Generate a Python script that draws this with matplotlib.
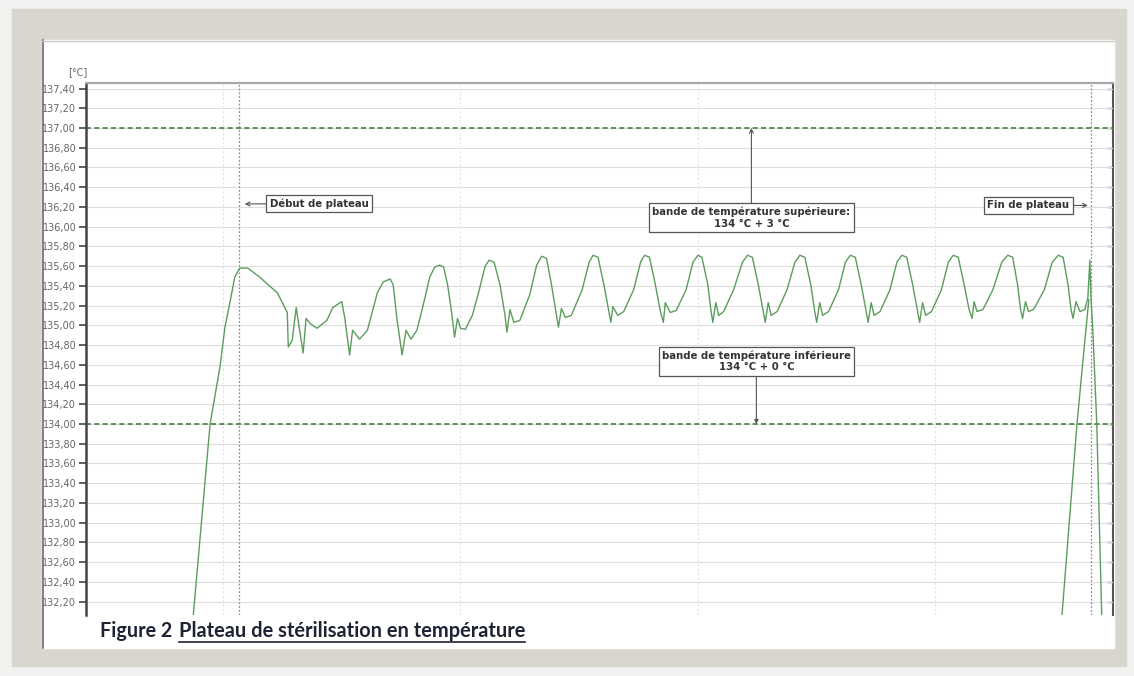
import matplotlib
matplotlib.use("Agg")
import matplotlib.pyplot as plt
from matplotlib.patches import Rectangle
from matplotlib.lines import Line2D
from matplotlib.ticker import FuncFormatter

# relevé de la sonde : temps (s) / température (°C)
temps_s = [207, 210, 227, 237, 242, 247, 252, 257, 265, 277, 288, 295, 301, 305, 306, 310,
           314, 318, 321, 324, 328, 335, 345, 351, 360, 363, 368, 371, 378, 386, 396, 402,
           409, 412, 416, 421, 425, 430, 436, 442, 449, 454, 459, 463, 467, 471, 474, 477,
           480, 485, 492, 499, 505, 509, 514, 520, 525, 527, 530, 534, 540, 550, 557, 562,
           567, 572, 577, 579, 582, 586, 592, 603, 610, 614, 619, 625, 630, 632, 634, 639,
           645, 655, 662, 666, 671, 677, 682, 685, 687, 692, 698, 708, 715, 720, 724, 730,
           733, 735, 738, 741, 746, 756, 765, 770, 775, 781, 786, 788, 791, 794, 800, 810,
           818, 823, 828, 834, 838, 840, 843, 846, 852, 862, 869, 874, 879, 885, 890, 892,
           895, 898, 904, 914, 921, 926, 931, 937, 942, 944, 947, 950, 956, 966, 973, 978,
           983, 989, 994, 997, 999, 1002, 1008, 1018, 1027, 1033, 1038, 1043, 1046, 1048,
           1051, 1054, 1059, 1070, 1078, 1084, 1089, 1094, 1097, 1099, 1102, 1106, 1111,
           1114, 1116, 1117, 1119, 1123, 1128, 1129]
temp_c = [131.81, 132.06, 134.00, 134.58, 134.98, 135.23, 135.49, 135.58, 135.58, 135.49,
          135.39, 135.33, 135.21, 135.13, 134.78, 134.85, 135.18, 134.92, 134.72, 135.07,
          135.02, 134.97, 135.05, 135.18, 135.24, 135.08, 134.70, 134.95, 134.86, 134.95,
          135.33, 135.44, 135.47, 135.41, 135.05, 134.70, 134.95, 134.86, 134.95, 135.19,
          135.49, 135.59, 135.61, 135.59, 135.41, 135.14, 134.88, 135.07, 134.97, 134.96,
          135.10, 135.36, 135.60, 135.66, 135.64, 135.41, 135.10, 134.93, 135.16, 135.03,
          135.05, 135.31, 135.61, 135.70, 135.68, 135.41, 135.10, 134.98, 135.17, 135.08,
          135.10, 135.36, 135.64, 135.71, 135.69, 135.41, 135.14, 135.03, 135.19, 135.10,
          135.14, 135.36, 135.64, 135.71, 135.69, 135.41, 135.14, 135.03, 135.23, 135.13,
          135.15, 135.36, 135.64, 135.71, 135.69, 135.41, 135.16, 135.03, 135.23, 135.10,
          135.14, 135.36, 135.64, 135.71, 135.69, 135.41, 135.14, 135.03, 135.23, 135.10,
          135.14, 135.36, 135.64, 135.71, 135.69, 135.41, 135.14, 135.03, 135.23, 135.10,
          135.14, 135.36, 135.64, 135.71, 135.69, 135.41, 135.14, 135.03, 135.23, 135.10,
          135.14, 135.36, 135.64, 135.71, 135.69, 135.41, 135.14, 135.03, 135.23, 135.10,
          135.14, 135.36, 135.64, 135.71, 135.69, 135.41, 135.16, 135.07, 135.24, 135.14,
          135.16, 135.36, 135.64, 135.71, 135.69, 135.41, 135.16, 135.07, 135.24, 135.14,
          135.16, 135.36, 135.64, 135.71, 135.69, 135.41, 135.16, 135.07, 135.24, 135.14,
          135.16, 135.28, 135.66, 135.31, 134.95, 134.00, 132.06, 131.81]

# seconde trace qui remonte en fin de cycle
retour_s = [1086, 1088, 1103, 1111, 1115]
retour_c = [131.81, 132.08, 134.00, 134.85, 135.26]

bande_sup = 137.0
bande_inf = 134.0
debut_plateau = 256
fin_plateau = 1117
grille_x = [240, 480, 720, 960]
graduations = [132.2, 132.4, 132.6, 132.8, 133.0, 133.2, 133.4, 133.6, 133.8, 134.0,
               134.2, 134.4, 134.6, 134.8, 135.0, 135.2, 135.4, 135.6, 135.8, 136.0,
               136.2, 136.4, 136.6, 136.8, 137.0, 137.2, 137.4]

W, H = 1134, 676
fig = plt.figure(figsize=(W / 100, H / 100), dpi=100)
fig.patch.set_facecolor('#f1f1f0')


def fx(x):
    return x / W


def fy(y):
    return 1 - y / H


# cadre gris + zone blanche (derrière les axes)
fig.patches.append(Rectangle((fx(12), fy(666)), fx(1126) - fx(12), fy(9) - fy(666),
                             transform=fig.transFigure, color='#d8d6cf', zorder=-3))
fig.patches.append(Rectangle((fx(42), fy(648)), fx(1114) - fx(42), fy(40) - fy(648),
                             transform=fig.transFigure, color='white', zorder=-2))
fig.lines.append(Line2D([fx(43), fx(43)], [fy(40), fy(648)], transform=fig.transFigure,
                        color='#6a6a6a', lw=1.2, zorder=-1))
fig.lines.append(Line2D([fx(42), fx(1114)], [fy(41), fy(41)], transform=fig.transFigure,
                        color='#c9c7c1', lw=1.0, zorder=-1))

ax = fig.add_axes([fx(86), fy(615), fx(1113) - fx(86), fy(83) - fy(615)])
ax.set_facecolor('white')
ax.set_xlim(101.6, 1139.4)
ax.set_ylim(132.064, 137.456)

ax.set_yticks(graduations)
ax.yaxis.set_major_formatter(FuncFormatter(lambda v, p: f"{v:.2f}".replace('.', ',')))
ax.tick_params(axis='y', labelsize=7, labelcolor='#666666', length=5, width=1.2,
               color='#444444', pad=2)
ax.set_xticks([])
sec = ax.secondary_yaxis('right')
sec.set_yticks(graduations)
sec.tick_params(direction='in', length=4, width=1.0, color='#555555', labelright=False)
sec.spines['right'].set_color('#555555')
sec.spines['right'].set_linewidth(1.5)

ax.spines['left'].set_color('#444444')
ax.spines['left'].set_linewidth(1.8)
ax.spines['top'].set_color('#a8a8a8')
ax.spines['top'].set_linewidth(1.6)
ax.spines['right'].set_visible(False)
ax.spines['bottom'].set_visible(False)

ax.grid(axis='y', color='#dedede', lw=0.8)
for gx in grille_x:
    ax.axvline(gx, color='#e2e2e2', lw=0.8, ls=(0, (2, 2)))

ax.axvline(debut_plateau, color='#8c8c8c', lw=0.9, ls=(0, (1.5, 1.5)))
ax.axvline(fin_plateau, color='#8c8c8c', lw=0.9, ls=(0, (1.5, 1.5)))

ax.axhline(bande_sup, color='#3f7f3f', lw=1.2, ls=(0, (3, 2)))
ax.axhline(bande_inf, color='#3f7f3f', lw=1.2, ls=(0, (3, 2)))

ax.plot(temps_s, temp_c, color='#5c9c5c', lw=1.0)
ax.plot(retour_s, retour_c, color='#5c9c5c', lw=1.0)

boite = dict(boxstyle='square,pad=0.32', fc='white', ec='#555555', lw=0.9)
fleche = dict(arrowstyle='->', color='#555555', lw=0.8, shrinkA=0, shrinkB=0)
police = dict(fontsize=7.3, fontweight='bold', color='#333333', ha='center', va='center')

ax.annotate('Début de plateau', xy=(262, 136.23), xytext=(337, 136.235),
            bbox=boite, arrowprops=fleche, **police)
ax.annotate('Fin de plateau', xy=(1114, 136.215), xytext=(1054, 136.215),
            bbox=boite, arrowprops=fleche, **police)
ax.annotate('bande de température supérieure:\n134 °C + 3 °C', xy=(774, bande_sup),
            xytext=(774, 136.093), bbox=boite, arrowprops=fleche,
            multialignment='center', **police)
ax.annotate('bande de température inférieure\n134 °C + 0 °C', xy=(779, bande_inf),
            xytext=(779, 134.634), bbox=boite,
            arrowprops=dict(arrowstyle='-|>', color='#555555', lw=0.8, mutation_scale=6,
                            shrinkA=0, shrinkB=0),
            multialignment='center', **police)

fig.text(fx(87), fy(72), '[°C]', ha='right', va='center', fontsize=7, color='#666666')

# légende de la figure
t1 = fig.text(fx(100), fy(637), 'Figure 2', fontfamily='Lato', fontweight='bold',
              fontsize=14.2, color='#1e2233', va='baseline')
t2 = fig.text(fx(179), fy(637), 'Plateau de stérilisation en température',
              fontfamily='Lato', fontweight='bold', fontsize=14.4, color='#1e2233',
              va='baseline')
fig.canvas.draw()
bb = t2.get_window_extent(fig.canvas.get_renderer())
fig.lines.append(Line2D([bb.x0 / W, bb.x1 / W], [fy(642), fy(642)], transform=fig.transFigure,
                        color='#1e2233', lw=1.2, zorder=3))

fig.savefig('out.png', dpi=100, facecolor=fig.get_facecolor())
